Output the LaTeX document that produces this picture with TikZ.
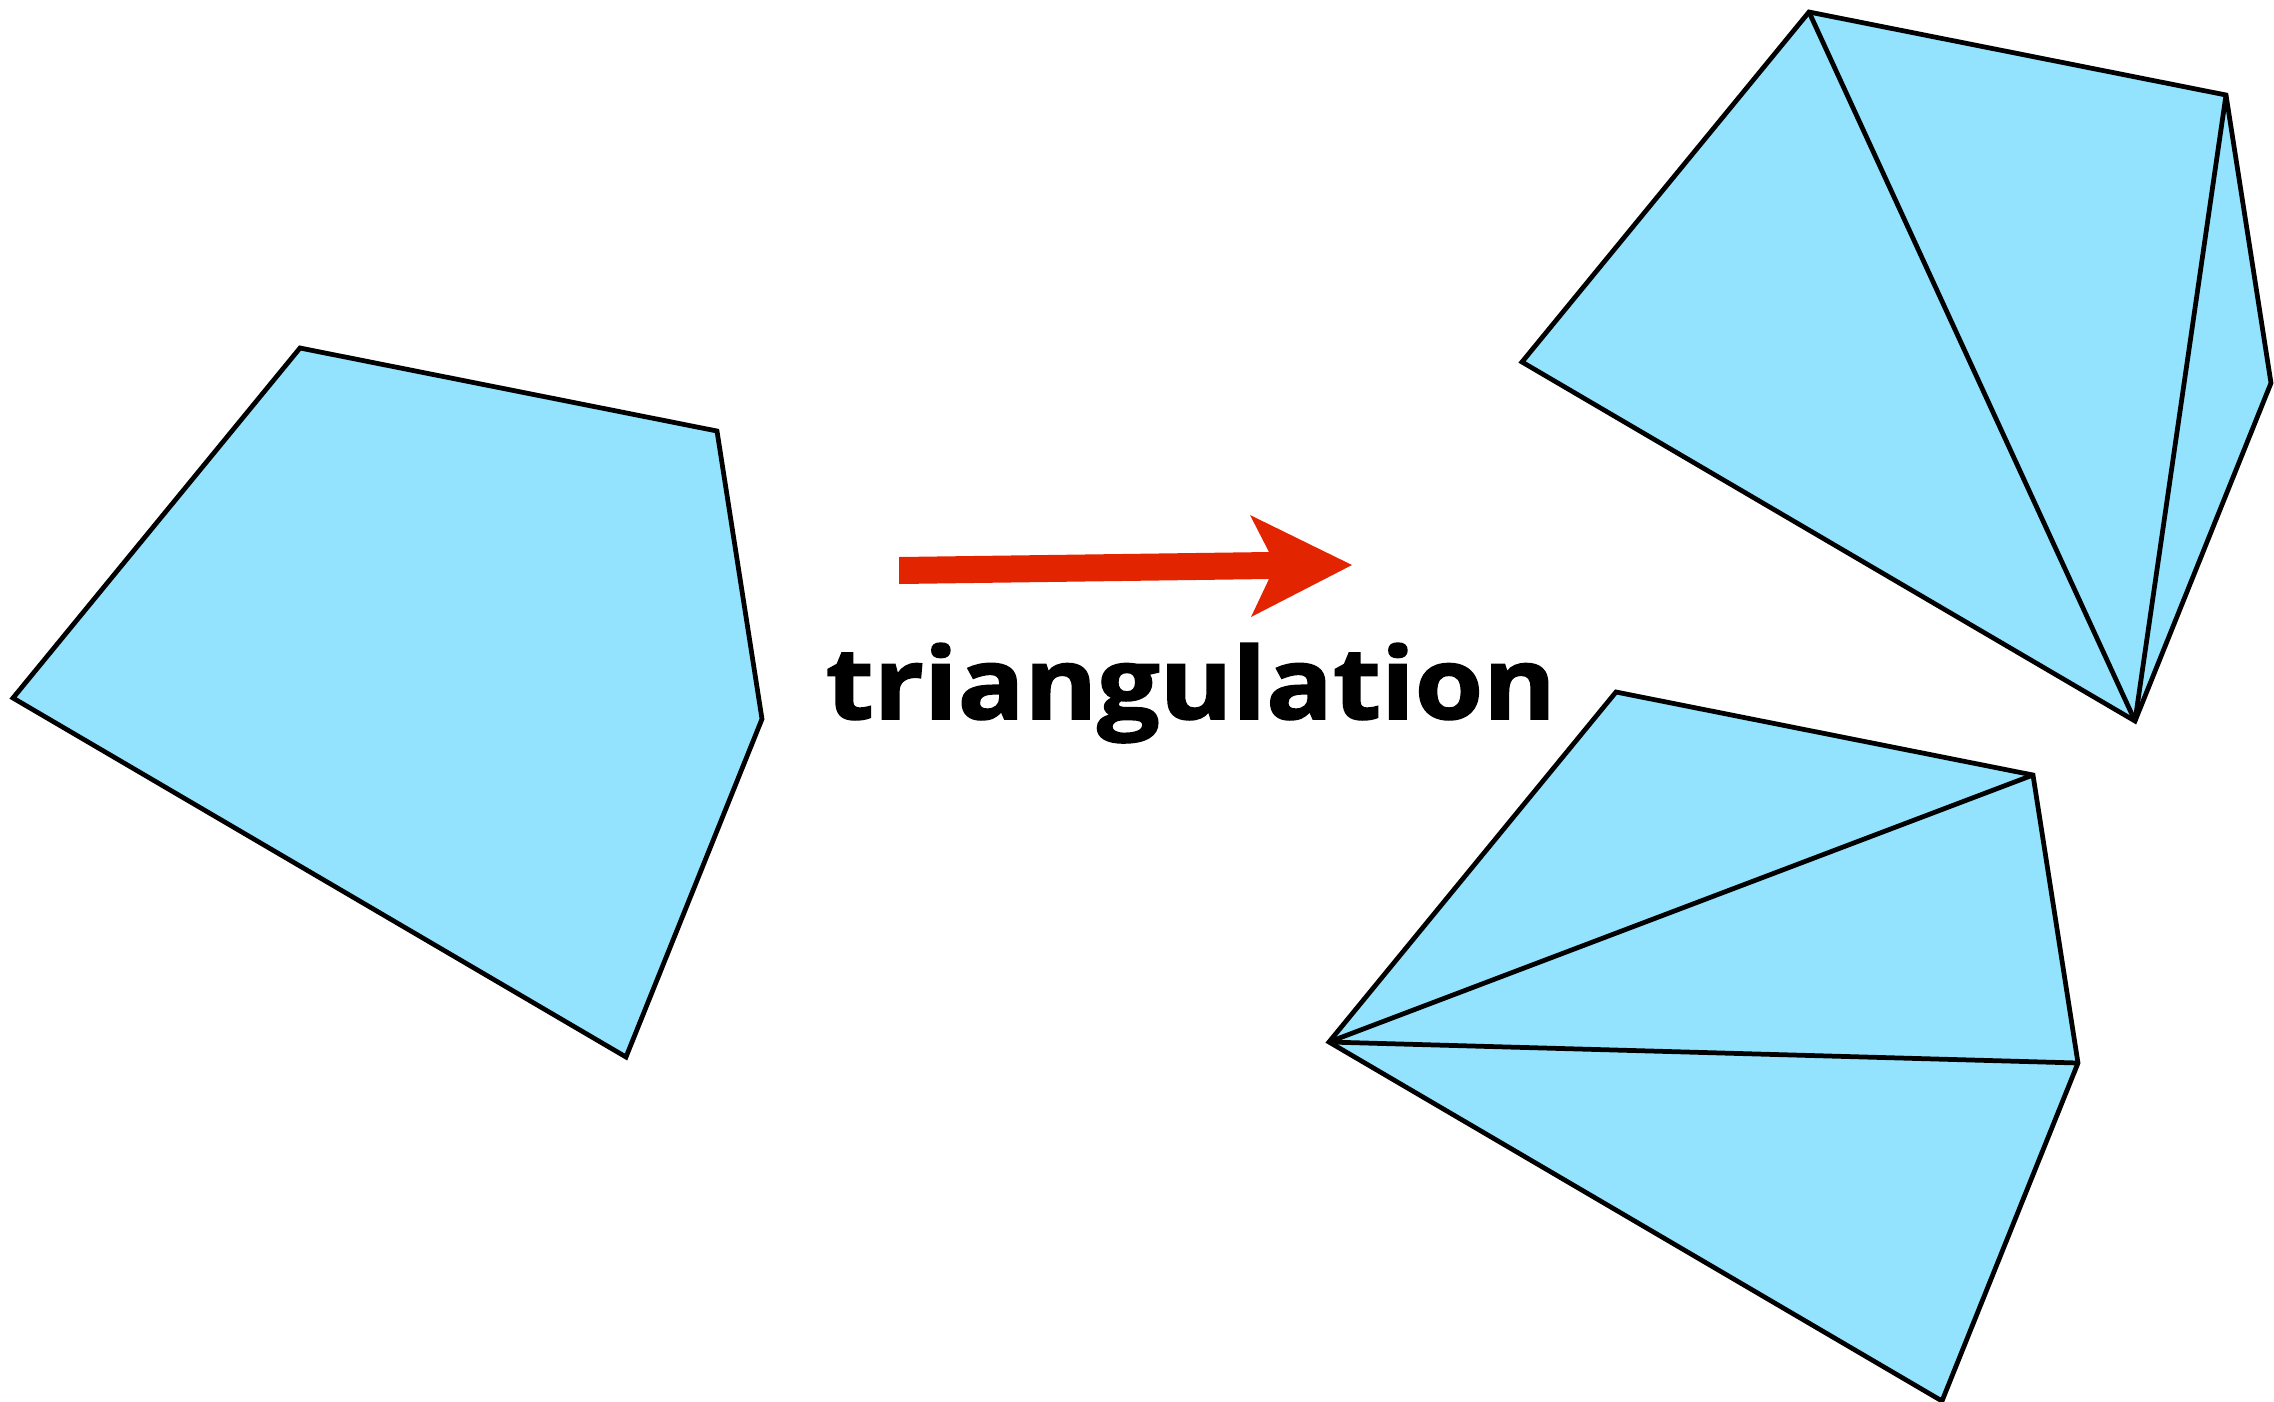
\documentclass[tikz,border=0pt]{standalone}
\usepackage{fontspec}
\setmainfont{Open Sans}
\newfontfamily\labelfont[BoldFeatures={FakeBold=1.5}]{Open Sans}
\usetikzlibrary{calc}
\definecolor{polyfill}{RGB}{148,227,254}
\definecolor{arrowred}{RGB}{226,36,0}
\tikzset{
  poly/.style={fill=polyfill, draw=black, line width=1.35pt, line join=miter},
  diag/.style={draw=black, line width=1.35pt}
}
\newcommand\mkpolycoords[1]{%
  \coordinate (#1T) at (0,0);
  \coordinate (#1A) at (417,83);
  \coordinate (#1B) at (462,371);
  \coordinate (#1C) at (326,709);
  \coordinate (#1D) at (-287,350);}
\begin{document}
\begin{tikzpicture}[x=0.01cm,y=-0.01cm]
\useasboundingbox (0,0) rectangle (2274,1402);
\begin{scope}[shift={(300,348)}]\mkpolycoords{p}\end{scope}
\begin{scope}[shift={(1809,12)}]\mkpolycoords{q}\end{scope}
\begin{scope}[shift={(1616,692)}]\mkpolycoords{r}\end{scope}
% left polygon
\draw[poly] (pT) -- (pA) -- (pB) -- (pC) -- (pD) -- cycle;
% top-right triangulated
\draw[poly] (qT) -- (qA) -- (qB) -- (qC) -- (qD) -- cycle;
\draw[diag] (qT) -- (qC);
\draw[diag] (qA) -- (qC);
% bottom-right triangulated
\draw[poly] (rT) -- (rA) -- (rB) -- (rC) -- (rD) -- cycle;
\draw[diag] (rD) -- (rA);
\draw[diag] (rD) -- (rB);
% arrow
\coordinate (s1) at (899,557);
\coordinate (s2) at (1269,552);
\coordinate (h1) at (1250,515);
\coordinate (tip) at (1352,565);
\coordinate (h2) at (1251,617);
\coordinate (s3) at (1269,579);
\coordinate (s4) at (899,584);
\fill[arrowred] (s1) -- (s2) -- (h1) -- (tip) -- (h2) -- (s3) -- (s4) -- cycle;
\node[anchor=base west, inner sep=0pt] (lbl) at (825,719)
  {\resizebox{207.7pt}{21.6pt}{\labelfont\bfseries triangulation}};
\end{tikzpicture}
\end{document}
